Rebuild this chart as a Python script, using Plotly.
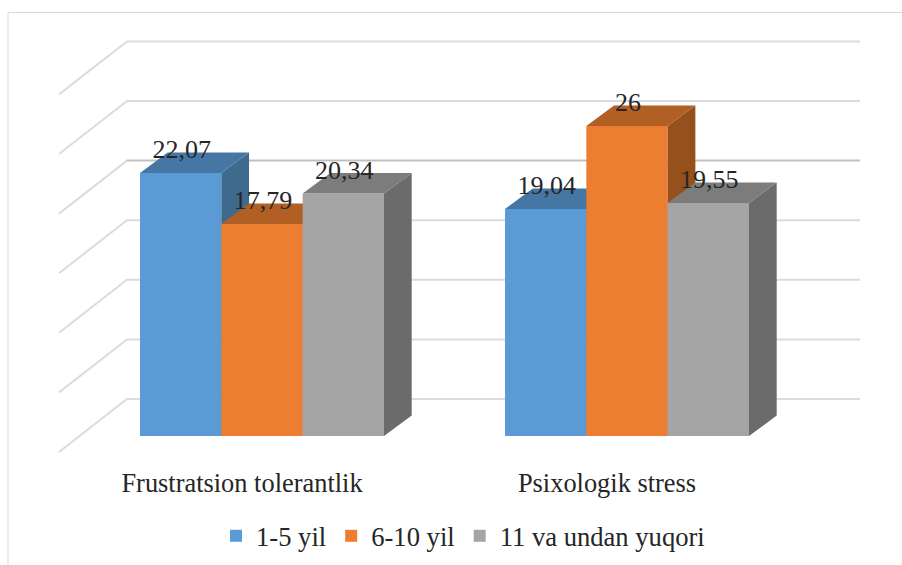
import plotly.graph_objects as go

categories = ["Frustratsion tolerantlik", "Psixologik stress"]
series_names = ["1-5 yil", "6-10 yil", "11 va undan yuqori"]
series_1 = [22.07, 19.04]
series_2 = [17.79, 26]
series_3 = [20.34, 19.55]
all_series = [series_1, series_2, series_3]
ticks = [0, 5, 10, 15, 20, 25, 30]

front_colors = ["#5B9BD5", "#ED7D31", "#A5A5A5"]
top_colors = ["#4676A3", "#B25F25", "#7C7C7C"]
side_colors = ["#3E6A8E", "#96501B", "#6B6B6B"]
INK = "#262626"
FONT = "Liberation Serif"

# geometry of the faux-3D projection
W, H = 902, 565
MB = 100
PX = 11.92                 # pixels per value unit
Y0 = 436                   # pixel row of value 0 on the bars' front plane
plot_h = H - MB
group_centers = [262.0, 627.0]
label_x = [242, 607]
bar_w = 81.33
depth_x, depth_y = 27.7, 20.5 / PX
wall_l, wall_r, floor_l = 127, 860, 59
wall_dy, floor_dy = 37 / PX, -16 / PX
label_dy = 21.5 / PX

y_range = [(Y0 - plot_h) / PX, Y0 / PX]

fig = go.Figure()

# gridlines: floor edge -> back wall
gx, gy = [], []
for t in ticks:
    gx += [floor_l, wall_l, wall_r, None]
    gy += [t + floor_dy, t + wall_dy, t + wall_dy, None]
fig.add_trace(go.Scatter(x=gx, y=gy, mode="lines", showlegend=False, hoverinfo="skip",
                         line=dict(color="#DCDCDC", width=2)))
# the 20 line reads thinner and darker along the back wall
fig.add_trace(go.Scatter(x=[wall_l, wall_r], y=[20 + wall_dy] * 2, mode="lines", showlegend=False,
                         hoverinfo="skip", line=dict(color="#BFBFBF", width=1.5)))

for i, vals in enumerate(all_series):
    ya = f"y{i + 2}"
    xs = [c + (i - 1) * bar_w for c in group_centers]
    side_x, side_y, top_x, top_y = [], [], [], []
    for x, v in zip(xs, vals):
        l, r = x - bar_w / 2, x + bar_w / 2
        side_x += [r, r + depth_x, r + depth_x, r, r, None]
        side_y += [0, depth_y, v + depth_y, v, 0, None]
        top_x += [l, l + depth_x, r + depth_x, r, l, None]
        top_y += [v, v + depth_y, v + depth_y, v, v, None]
    fig.add_trace(go.Scatter(x=side_x, y=side_y, yaxis=ya, mode="lines", fill="toself",
                             fillcolor=side_colors[i], line=dict(width=0),
                             showlegend=False, hoverinfo="skip"))
    fig.add_trace(go.Scatter(x=top_x, y=top_y, yaxis=ya, mode="lines", fill="toself",
                             fillcolor=top_colors[i], line=dict(width=0),
                             showlegend=False, hoverinfo="skip"))
    fig.add_trace(go.Bar(x=xs, y=vals, width=bar_w, yaxis=ya, name=series_names[i],
                         marker=dict(color=front_colors[i], line=dict(width=0))))

# data labels on the topmost layer
lx, ly, lt = [], [], []
for i, vals in enumerate(all_series):
    for c, v in zip(group_centers, vals):
        lx.append(c + (i - 1) * bar_w + 1)
        ly.append(v + label_dy)
        lt.append(f"{v:g}".replace(".", ","))
fig.add_trace(go.Scatter(x=lx, y=ly, text=lt, yaxis="y5", mode="text", textposition="middle center",
                         textfont=dict(family=FONT, size=26, color=INK),
                         showlegend=False, hoverinfo="skip"))

fig.update_layout(
    width=W, height=H, margin=dict(l=0, r=0, t=0, b=MB, pad=0, autoexpand=False),
    paper_bgcolor="white", plot_bgcolor="white",
    xaxis=dict(range=[0, W], showgrid=False, zeroline=False, showline=False, ticks="",
               automargin=False,
               tickmode="array", tickvals=label_x, ticktext=categories,
               tickfont=dict(family=FONT, size=26.4, color=INK)),
    yaxis=dict(range=y_range, visible=False),
    legend=dict(orientation="h", x=463 / W, xanchor="center", y=(plot_h - 512) / plot_h, yanchor="top",
                font=dict(family=FONT, size=26.6, color=INK), bgcolor="rgba(0,0,0,0)",
                traceorder="normal"),
    shapes=[dict(type="path", xref="paper", yref="paper", layer="below",
                 path=f"M {8 / W} {-1} L {8 / W} {(plot_h - 12.5) / plot_h} L 1.2 {(plot_h - 12.5) / plot_h}",
                 line=dict(color="#D9D9D9", width=1))],
    showlegend=True,
    hovermode=False,
)
for n in (2, 3, 4, 5):
    fig.update_layout({f"yaxis{n}": dict(range=y_range, visible=False, overlaying="y")})

fig.write_html("out.html", config=dict(displayModeBar=False),
               post_script="document.body.style.margin='0';document.body.style.overflow='hidden';")
